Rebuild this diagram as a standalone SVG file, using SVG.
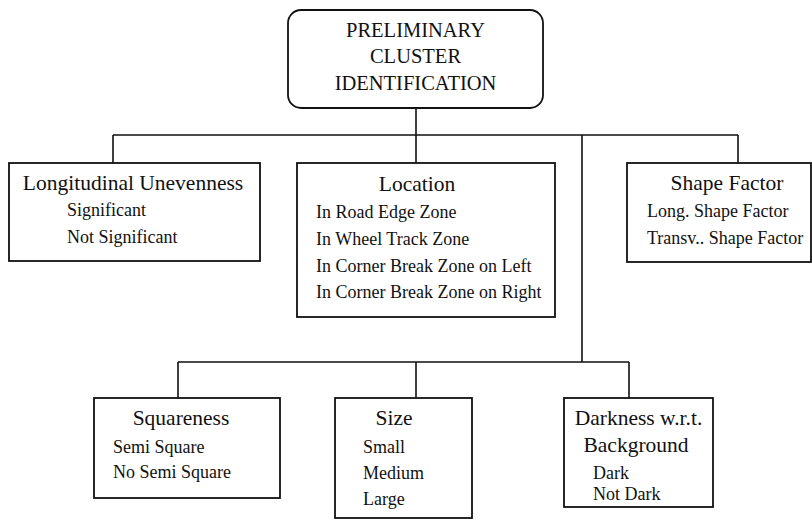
<svg xmlns="http://www.w3.org/2000/svg" width="812" height="520" viewBox="0 0 812 520">
  <style>
    .box { fill: #fff; stroke: #111; stroke-width: 1.8; }
    .link { fill: none; stroke: #111; stroke-width: 1.6; }
    text { font-family: "Liberation Serif", "Times New Roman", serif; fill: #111; }
    .root { font-size: 20.5px; text-anchor: middle; }
    .head { font-size: 21.5px; text-anchor: middle; }
    .item { font-size: 18px; }
  </style>
  <rect width="812" height="520" fill="#fff"/>

  <g id="connectors">
    <path class="link" d="M416 108 V135 M113 135 H738 M113 135 V163 M416 135 V163 M738 135 V163 M582 135 V362"/>
    <path class="link" d="M178 362 H629 M178 362 V398 M416 362 V398 M629 362 V398"/>
  </g>

  <g id="root">
    <rect class="box" x="288" y="10" width="255" height="98" rx="13"/>
    <text class="root" x="415.5" y="37">PRELIMINARY</text>
    <text class="root" x="415.5" y="63">CLUSTER</text>
    <text class="root" x="415.5" y="90">IDENTIFICATION</text>
  </g>

  <g id="longitudinal">
    <rect class="box" x="9" y="163" width="251" height="98"/>
    <text class="head" x="133" y="190">Longitudinal Unevenness</text>
    <text class="item" x="67" y="216">Significant</text>
    <text class="item" x="67" y="243">Not Significant</text>
  </g>

  <g id="location">
    <rect class="box" x="297" y="163" width="258" height="154"/>
    <text class="head" x="417" y="191">Location</text>
    <text class="item" x="316" y="218">In Road Edge Zone</text>
    <text class="item" x="316" y="245">In Wheel Track Zone</text>
    <text class="item" x="316" y="272">In Corner Break Zone on Left</text>
    <text class="item" x="316" y="298">In Corner Break Zone on Right</text>
  </g>

  <g id="shape-factor">
    <rect class="box" x="627" y="163" width="184" height="99"/>
    <text class="head" x="727" y="190">Shape Factor</text>
    <text class="item" x="647" y="217">Long. Shape Factor</text>
    <text class="item" x="647" y="244">Transv.. Shape Factor</text>
  </g>

  <g id="squareness">
    <rect class="box" x="94" y="398" width="186" height="100"/>
    <text class="head" x="181" y="425">Squareness</text>
    <text class="item" x="113" y="453">Semi Square</text>
    <text class="item" x="113" y="478">No Semi Square</text>
  </g>

  <g id="size">
    <rect class="box" x="335" y="398" width="137" height="120"/>
    <text class="head" x="394" y="425">Size</text>
    <text class="item" x="363" y="453">Small</text>
    <text class="item" x="363" y="479">Medium</text>
    <text class="item" x="363" y="505">Large</text>
  </g>

  <g id="darkness">
    <rect class="box" x="564" y="398" width="149" height="109"/>
    <text class="head" x="638.5" y="425">Darkness w.r.t.</text>
    <text class="head" x="636" y="452">Background</text>
    <text class="item" x="593" y="479">Dark</text>
    <text class="item" x="593" y="500">Not Dark</text>
  </g>
</svg>
